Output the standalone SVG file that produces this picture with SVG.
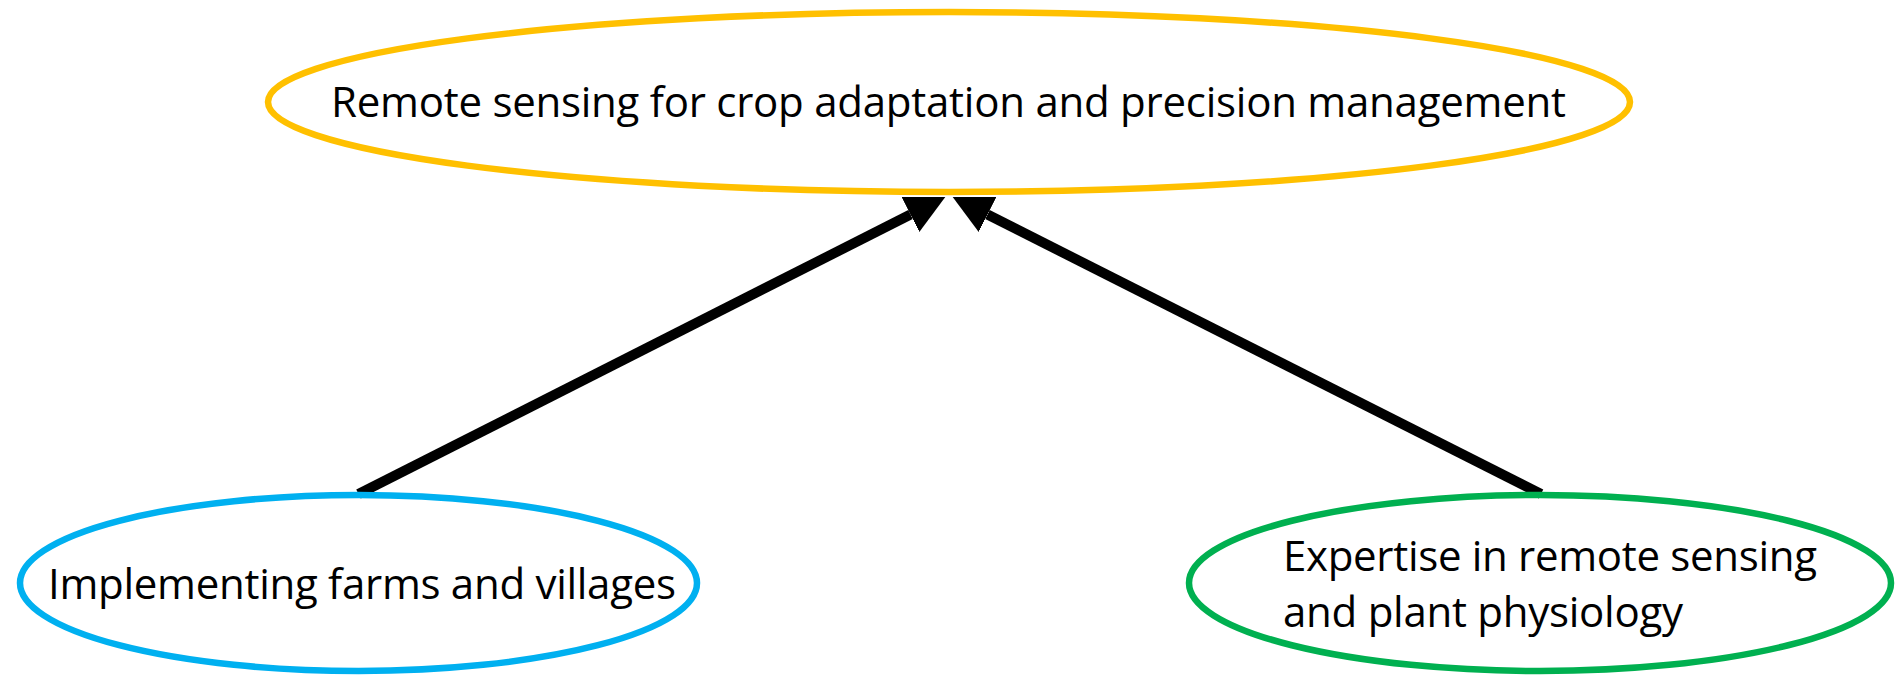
<svg xmlns="http://www.w3.org/2000/svg" width="1896" height="676" viewBox="0 0 1896 676">
  <style>
    .node { fill: none; stroke-width: 6.5; }
    .lbl { font-family: "Open Sans", "Liberation Sans", sans-serif; font-size: 42px; fill: #000000; }
    .edge { stroke: #000000; stroke-width: 10; fill: none; stroke-linecap: butt; }
  </style>
  <defs>
    <marker id="arrow" markerUnits="userSpaceOnUse" viewBox="0 0 39 39" refX="0" refY="19.5" markerWidth="39" markerHeight="39" orient="auto">
      <path d="M0,0 L39,19.5 L0,39 Z" fill="#000000"/>
    </marker>
  </defs>
  <rect x="0" y="0" width="1896" height="676" fill="#ffffff"/>
  <g id="connectors">
    <line class="edge" x1="358.5" y1="494" x2="910.5" y2="214.5" marker-end="url(#arrow)"/>
    <line class="edge" x1="1541" y1="494" x2="987.5" y2="214.5" marker-end="url(#arrow)"/>
  </g>
  <g id="node-remote-sensing">
    <ellipse class="node" cx="949" cy="102" rx="681" ry="90" stroke="#FFC000"/>
    <text class="lbl" x="331" y="117" textLength="1235">Remote sensing for crop adaptation and precision management</text>
  </g>
  <g id="node-implementing">
    <ellipse class="node" cx="358.5" cy="583" rx="338.5" ry="88" stroke="#00B0F0"/>
    <text class="lbl" x="48" y="599" textLength="628">Implementing farms and villages</text>
  </g>
  <g id="node-expertise">
    <ellipse class="node" cx="1540" cy="583" rx="351" ry="88" stroke="#00B050"/>
    <text class="lbl" x="1283" y="571" textLength="534">Expertise in remote sensing</text>
    <text class="lbl" x="1283" y="627" textLength="400">and plant physiology</text>
  </g>
</svg>
